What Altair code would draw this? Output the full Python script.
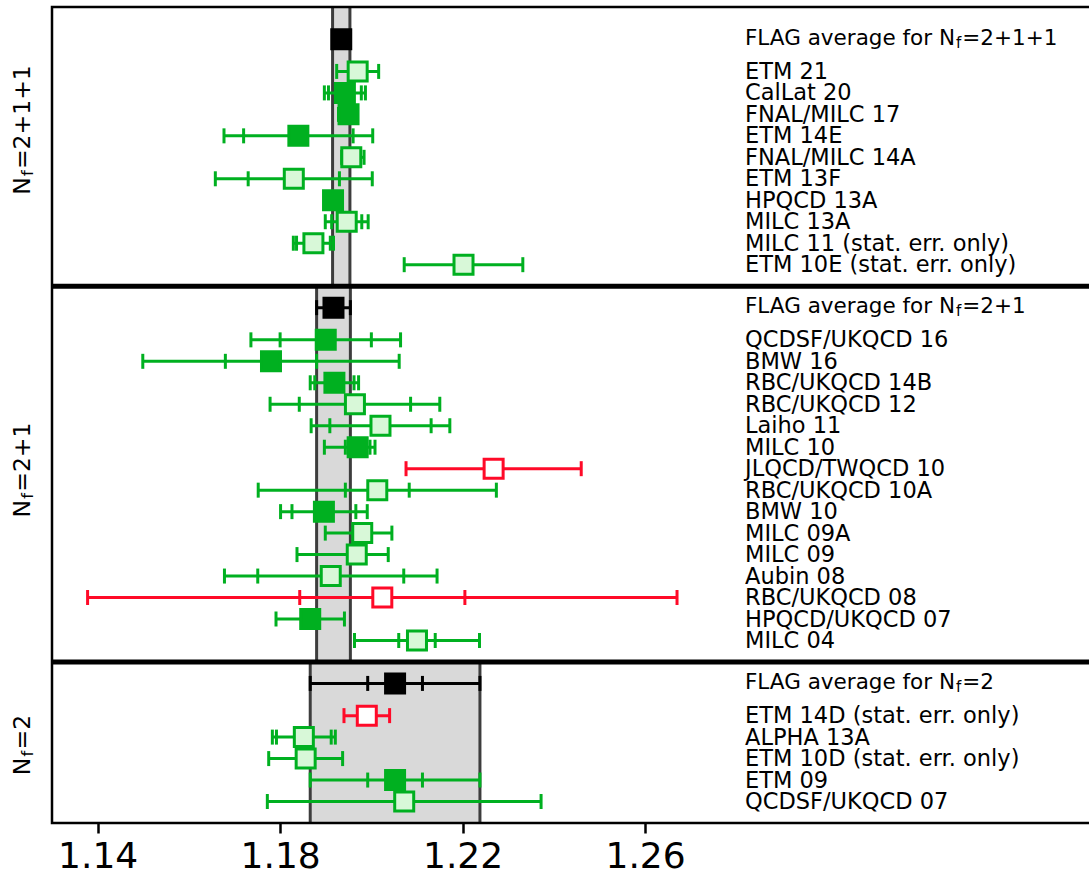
import altair as alt
import pandas as pd

# ---------------- data ----------------
flavours = ["2+1+1", "2+1", "2"]
avg_values = [1.1934, 1.1917, 1.2052]
avg_errors = [0.0019, 0.0037, 0.0186]
avg_stat = [0.0, 0.0, 0.0060]

labels_4 = ["ETM 21", "CalLat 20", "FNAL/MILC 17", "ETM 14E", "FNAL/MILC 14A",
            "ETM 13F", "HPQCD 13A", "MILC 13A", "MILC 11 (stat. err. only)",
            "ETM 10E (stat. err. only)"]
values_4 = [1.1970, 1.1942, 1.1950, 1.1840, 1.1956, 1.1830, 1.1916, 1.1946, 1.1873, 1.2202]
err_lo_4 = [0.0046, 0.0045, 0.0022, 0.0163, 0.0021, 0.0172, 0.0015, 0.0047, 0.0044, 0.0130]
err_hi_4 = [0.0046, 0.0045, 0.0015, 0.0163, 0.0028, 0.0172, 0.0015, 0.0047, 0.0044, 0.0130]
stat_4 = [0.0, 0.0036, 0.0, 0.0120, 0.0, 0.0100, 0.0, 0.0033, 0.0037, 0.0]
kind_4 = ["open", "filled", "filled", "filled", "open", "open", "filled", "open", "open", "open"]

labels_3 = ["QCDSF/UKQCD 16", "BMW 16", "RBC/UKQCD 14B", "RBC/UKQCD 12", "Laiho 11",
            "MILC 10", "JLQCD/TWQCD 10", "RBC/UKQCD 10A", "BMW 10", "MILC 09A",
            "MILC 09", "Aubin 08", "RBC/UKQCD 08", "HPQCD/UKQCD 07", "MILC 04"]
values_3 = [1.1900, 1.1780, 1.1919, 1.1964, 1.2020, 1.1970, 1.2268, 1.2013, 1.1896,
            1.1980, 1.1968, 1.1911, 1.2024, 1.1866, 1.2100]
err_lo_3 = [0.0164, 0.0281, 0.0053, 0.0186, 0.0152, 0.0073, 0.0192, 0.0261, 0.0095,
            0.0081, 0.0131, 0.0233, 0.0646, 0.0075, 0.0137]
err_hi_3 = [0.0164, 0.0281, 0.0053, 0.0186, 0.0152, 0.0038, 0.0192, 0.0261, 0.0095,
            0.0065, 0.0069, 0.0233, 0.0646, 0.0075, 0.0137]
stat_3 = [0.0100, 0.0100, 0.0043, 0.0122, 0.0111, 0.0027, 0.0, 0.0070, 0.0070,
          0.0, 0.0, 0.0160, 0.0181, 0.0, 0.0040]
kind_3 = ["filled", "filled", "filled", "open", "open", "filled", "red", "open", "filled",
          "open", "open", "open", "red", "filled", "open"]

labels_2 = ["ETM 14D (stat. err. only)", "ALPHA 13A", "ETM 10D (stat. err. only)",
            "ETM 09", "QCDSF/UKQCD 07"]
values_2 = [1.1990, 1.1852, 1.1856, 1.2052, 1.2072]
err_lo_2 = [0.0050, 0.0069, 0.0081, 0.0186, 0.0300]
err_hi_2 = [0.0050, 0.0069, 0.0081, 0.0186, 0.0300]
stat_2 = [0.0, 0.0060, 0.0, 0.0060, 0.0]
kind_2 = ["red", "open", "open", "filled", "open"]

tick_values = [1.14, 1.18, 1.22, 1.26]

# ---------------- layout / style ----------------
W, H = 1037, 816
Y_MAX = 38.0
PX = H / Y_MAX
lead = [1.5, 1.0, 1.0]
GREEN = "#00b020"
LIGHT = "#d8f8d8"
RED = "#ff0a28"
FONT = "DejaVu Sans"

CW = {'N': 0.748, 'f': 0.352, '=': 0.838, '+': 0.838, '1': 0.636, '2': 0.636,
      'F': 0.575, 'L': 0.557, 'A': 0.684, 'G': 0.775, ' ': 0.318, 'a': 0.613,
      'v': 0.592, 'e': 0.615, 'r': 0.411, 'g': 0.635, 'o': 0.612}


def tw(s, size):
    return sum(CW.get(c, 0.6) for c in s) * size


groups = [
    (labels_4, values_4, err_lo_4, err_hi_4, stat_4, kind_4),
    (labels_3, values_3, err_lo_3, err_hi_3, stat_3, kind_3),
    (labels_2, values_2, err_lo_2, err_hi_2, stat_2, kind_2),
]

rows, panels = [], []
top = 0.0
for i, (labs, vals, elo, ehi, st, kd) in enumerate(groups):
    ay = top + lead[i]
    rows.append(dict(label="", y=ay, value=avg_values[i],
                     lo=avg_values[i] - avg_errors[i], hi=avg_values[i] + avg_errors[i],
                     stat=avg_stat[i], kind="avg"))
    y = ay + 1.5
    for j in range(len(labs)):
        rows.append(dict(label=labs[j], y=y, value=vals[j], lo=vals[j] - elo[j],
                         hi=vals[j] + ehi[j], stat=st[j], kind=kd[j]))
        y += 1.0
    panels.append(dict(flav=flavours[i], top=top, bottom=y, avg_y=ay,
                       lo=avg_values[i] - avg_errors[i], hi=avg_values[i] + avg_errors[i],
                       main="FLAG average for N", sub="f", rest="=" + flavours[i]))
    top = y

df = pd.DataFrame(rows)
pan = pd.DataFrame(panels)

caps = pd.concat([df[["y", "kind"]].assign(x=df["lo"]),
                  df[["y", "kind"]].assign(x=df["hi"])], ignore_index=True)
sd = df[df["stat"] > 0]
stat_ticks = pd.concat([sd[["y", "kind"]].assign(x=sd["value"] - sd["stat"]),
                        sd[["y", "kind"]].assign(x=sd["value"] + sd["stat"])],
                       ignore_index=True)
edges = pd.concat([pan[["top", "bottom"]].assign(x=pan["lo"]),
                   pan[["top", "bottom"]].assign(x=pan["hi"])], ignore_index=True)
seps = pan.iloc[1:][["top"]]
labels_df = df[df["kind"] != "avg"]

# rotated panel labels (N_f = ...)
F_Y = 23.5
SUB_Y = 0.7 * F_Y
centers_px = [123, 463, 738]
ylab_rows = []
for i, flav in enumerate(flavours):
    rest = "=" + flav
    total = tw("N", F_Y) + 0.1 * F_Y + tw("f", SUB_Y) + tw(rest, F_Y)
    ylab_rows.append(dict(y=(centers_px[i] + total / 2) / PX, main="N", sub="f", rest=rest))
ylab = pd.DataFrame(ylab_rows)

# ---------------- scales / encodings ----------------
xs = alt.Scale(domain=[1.13, 1.3573], nice=False, zero=False)
ys = alt.Scale(domain=[0, Y_MAX], reverse=True, nice=False, zero=False)
x_axis = alt.Axis(values=tick_values, format=".2f", title=None, grid=False, domain=False,
                  ticks=True, tickSize=10, tickWidth=2.5, tickColor="black",
                  labelFontSize=36, labelFont=FONT, labelColor="black",
                  labelPadding=6, labelFlush=False)
kinds = ["avg", "filled", "open", "red"]
line_scale = alt.Scale(domain=kinds, range=["#000000", GREEN, GREEN, RED])
fill_scale = alt.Scale(domain=kinds, range=["#000000", GREEN, LIGHT, "#ffffff"])


def X(f):
    return alt.X(f, scale=xs, axis=x_axis)


def Y(f):
    return alt.Y(f, scale=ys, axis=None)


bands = alt.Chart(pan).mark_rect(color="#d9d9d9").encode(
    x=X("lo:Q"), x2="hi:Q", y=Y("top:Q"), y2="bottom:Q")
band_edges = alt.Chart(edges).mark_rule(color="#3d3d3d", strokeWidth=3).encode(
    x=X("x:Q"), y=Y("top:Q"), y2="bottom:Q")
bars = alt.Chart(df).mark_rule(strokeWidth=3).encode(
    x=X("lo:Q"), x2="hi:Q", y=Y("y:Q"),
    color=alt.Color("kind:N", scale=line_scale, legend=None))
cap_marks = alt.Chart(caps).mark_tick(orient="vertical", size=15, thickness=3, opacity=1).encode(
    x=X("x:Q"), y=Y("y:Q"), color=alt.Color("kind:N", scale=line_scale, legend=None))
stat_marks = alt.Chart(stat_ticks).mark_tick(orient="vertical", size=15, thickness=3, opacity=1).encode(
    x=X("x:Q"), y=Y("y:Q"), color=alt.Color("kind:N", scale=line_scale, legend=None))
squares = alt.Chart(df).mark_square(size=361, strokeWidth=3, opacity=1).encode(
    x=X("value:Q"), y=Y("y:Q"),
    fill=alt.Fill("kind:N", scale=fill_scale, legend=None),
    stroke=alt.Stroke("kind:N", scale=line_scale, legend=None))
separators = alt.Chart(seps).mark_rule(color="black", strokeWidth=5).encode(
    y=Y("top:Q"), x=alt.value(0), x2=alt.value(W + 4))
frame = alt.Chart(pd.DataFrame({"k": [0]})).mark_rect(
    filled=False, stroke="black", strokeWidth=2.5).encode(
    x=alt.value(0), x2=alt.value(W + 4), y=alt.value(0), y2=alt.value(H))

LX = 693
F_L = 22.5
item_text = alt.Chart(labels_df).mark_text(
    align="left", baseline="alphabetic", dy=7.5, fontSize=F_L, font=FONT, color="black").encode(
    x=alt.value(LX), y=Y("y:Q"), text="label:N")

F_A = 21.5
SUB_A = 0.7 * F_A
avg_main = alt.Chart(pan).mark_text(
    align="left", baseline="alphabetic", dy=5.7, fontSize=F_A, font=FONT, color="black").encode(
    x=alt.value(LX), y=Y("avg_y:Q"), text="main:N")
avg_sub = alt.Chart(pan).mark_text(
    align="left", baseline="alphabetic", dx=tw("FLAG average for N", F_A) + 0.05 * F_A,
    dy=5.7 + 0.13 * F_A, fontSize=SUB_A, font=FONT, color="black").encode(
    x=alt.value(LX), y=Y("avg_y:Q"), text="sub:N")
avg_rest = alt.Chart(pan).mark_text(
    align="left", baseline="alphabetic",
    dx=tw("FLAG average for N", F_A) + 0.1 * F_A + tw("f", SUB_A),
    dy=5.7, fontSize=F_A, font=FONT, color="black").encode(
    x=alt.value(LX), y=Y("avg_y:Q"), text="rest:N")

YX = -22
yl_main = alt.Chart(ylab).mark_text(
    align="left", baseline="alphabetic", angle=270, fontSize=F_Y, font=FONT, color="black").encode(
    x=alt.value(YX), y=Y("y:Q"), text="main:N")
yl_sub = alt.Chart(ylab).mark_text(
    align="left", baseline="alphabetic", angle=270, dx=tw("N", F_Y) + 0.05 * F_Y,
    dy=0.13 * F_Y, fontSize=SUB_Y, font=FONT, color="black").encode(
    x=alt.value(YX), y=Y("y:Q"), text="sub:N")
yl_rest = alt.Chart(ylab).mark_text(
    align="left", baseline="alphabetic", angle=270,
    dx=tw("N", F_Y) + 0.1 * F_Y + tw("f", SUB_Y),
    fontSize=F_Y, font=FONT, color="black").encode(
    x=alt.value(YX), y=Y("y:Q"), text="rest:N")

chart = alt.layer(
    bands, band_edges, bars, cap_marks, stat_marks, squares, separators, frame,
    item_text, avg_main, avg_sub, avg_rest, yl_main, yl_sub, yl_rest
).properties(
    width=W, height=H,
    padding={"left": 52, "top": 7, "right": 0, "bottom": 52},
    autosize=alt.AutoSizeParams(type="none"),
    background="white",
).configure_view(strokeWidth=0)

chart.save("out.html", embed_options={"renderer": "svg", "actions": False})
